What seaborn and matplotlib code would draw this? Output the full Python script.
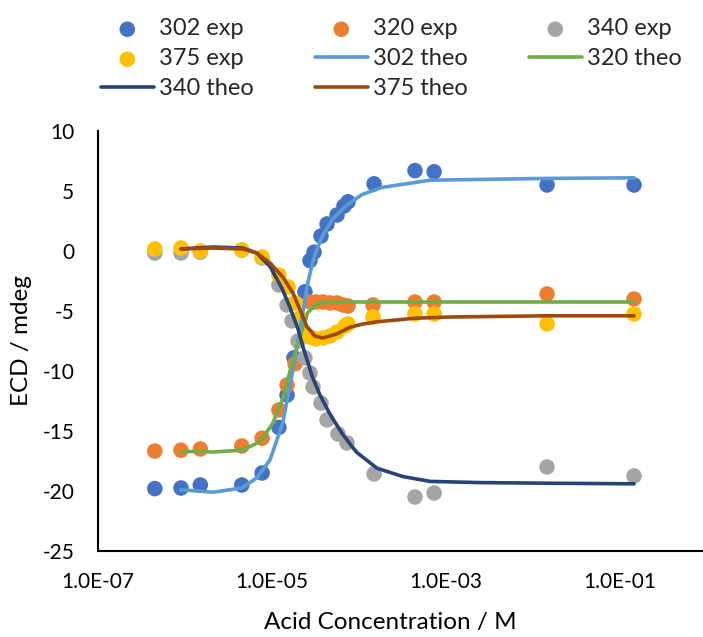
import numpy as np
import pandas as pd
import matplotlib
matplotlib.use('Agg')
import matplotlib.pyplot as plt
import seaborn as sns
from matplotlib.ticker import FixedLocator, FuncFormatter

sns.set_theme(style='white')
plt.rcParams['font.family'] = ['Lato', 'DejaVu Sans']
plt.rcParams['axes.unicode_minus'] = False

# experimental points (acid concentration in M, ECD in mdeg)
x_302_exp = [4.5e-7, 9.0e-7, 1.5e-6, 4.5e-6, 7.7e-6, 1.2e-5, 1.49e-5, 1.79e-5, 2.39e-5, 2.73e-5,
             3.04e-5, 3.66e-5, 4.29e-5, 5.59e-5, 6.73e-5, 7.48e-5, 1.49e-4, 4.4e-4, 7.3e-4, 1.45e-2, 1.45e-1]
y_302_exp = [-19.8, -19.75, -19.5, -19.5, -18.5, -14.7, -12.0, -8.9, -3.4, -0.8,
             -0.1, 1.25, 2.25, 3.0, 3.75, 4.1, 5.6, 6.7, 6.6, 5.5, 5.5]

x_320_exp = [4.5e-7, 9.0e-7, 1.5e-6, 4.5e-6, 7.7e-6, 1.2e-5, 1.49e-5, 1.84e-5, 2.73e-5, 3.2e-5,
             3.86e-5, 4.64e-5, 5.59e-5, 6.55e-5, 7.48e-5, 1.45e-4, 4.4e-4, 7.3e-4, 1.45e-2, 1.45e-1]
y_320_exp = [-16.67, -16.6, -16.5, -16.25, -15.6, -13.25, -11.17, -9.4, -4.25, -4.25,
             -4.25, -4.33, -4.33, -4.5, -4.58, -4.5, -4.25, -4.25, -3.58, -4.0]

x_340_exp = [4.5e-7, 9.0e-7, 1.5e-6, 4.5e-6, 7.7e-6, 1.2e-5, 1.49e-5, 1.70e-5, 1.99e-5, 2.39e-5,
             2.73e-5, 2.96e-5, 3.66e-5, 4.29e-5, 5.74e-5, 7.28e-5, 1.49e-4, 4.4e-4, 7.3e-4, 1.45e-2, 1.45e-1]
y_340_exp = [-0.17, -0.17, -0.1, 0.08, -0.58, -2.83, -4.5, -5.83, -7.5, -8.9,
             -10.17, -11.33, -12.67, -14.08, -15.25, -16.0, -18.58, -20.5, -20.17, -18.0, -18.75]

x_375_exp = [4.5e-7, 9.0e-7, 1.5e-6, 4.5e-6, 7.7e-6, 1.2e-5, 1.53e-5, 1.84e-5, 2.1e-5, 2.39e-5,
             2.73e-5, 3.2e-5, 3.86e-5, 4.64e-5, 5.59e-5, 6.91e-5, 7.48e-5, 1.45e-4, 4.4e-4, 7.3e-4, 1.45e-2, 1.45e-1]
y_375_exp = [0.17, 0.25, 0.0, 0.08, -0.5, -2.0, -3.0, -4.33, -5.58, -6.83,
             -7.17, -7.33, -7.25, -7.08, -6.75, -6.25, -6.08, -5.5, -5.25, -5.25, -6.08, -5.25]

# theoretical curves
x_302_theo = [9.0e-7, 2.1e-6, 4.5e-6, 6.7e-6, 9.5e-6, 1.17e-5, 1.34e-5, 1.53e-5, 1.70e-5, 1.94e-5,
              2.27e-5, 2.59e-5, 2.88e-5, 3.12e-5, 3.76e-5, 4.90e-5, 6.91e-5, 1.08e-4, 1.84e-4, 6.55e-4, 1.45e-2, 1.45e-1]
y_302_theo = [-19.9, -20.1, -19.75, -18.9, -17.4, -15.5, -14.2, -12.0, -10.3, -8.0,
              -5.0, -2.6, -1.2, -0.3, 1.2, 2.6, 3.7, 4.7, 5.3, 5.9, 6.05, 6.1]

x_320_theo = [9.0e-7, 2.1e-6, 4.5e-6, 7.3e-6, 8.3e-6, 1.03e-5, 1.17e-5, 1.34e-5, 1.53e-5, 1.84e-5,
              2.21e-5, 2.59e-5, 3.38e-5, 4.90e-5, 1.99e-4, 1.45e-1]
y_320_theo = [-16.7, -16.75, -16.6, -15.9, -15.3, -14.3, -13.2, -12.3, -10.6, -8.5,
              -6.6, -5.1, -4.35, -4.25, -4.25, -4.25]

x_340_theo = [9.0e-7, 2.1e-6, 4.6e-6, 6.7e-6, 9.5e-6, 1.30e-5, 1.61e-5, 1.99e-5, 2.27e-5, 2.59e-5,
              2.88e-5, 3.56e-5, 4.64e-5, 6.38e-5, 8.31e-5, 9.49e-5, 1.61e-4, 3.21e-4, 6.55e-4, 2.46e-3, 1.45e-2, 1.45e-1]
y_340_theo = [0.17, 0.33, 0.25, -0.17, -1.3, -3.1, -4.7, -6.5, -8.0, -9.3,
              -10.4, -12.0, -13.6, -15.2, -16.3, -16.8, -18.1, -18.8, -19.2, -19.3, -19.35, -19.4]

x_375_theo = [9.0e-7, 2.1e-6, 4.6e-6, 6.7e-6, 9.5e-6, 1.34e-5, 1.74e-5, 2.10e-5, 2.52e-5, 3.12e-5,
              3.86e-5, 5.59e-5, 7.88e-5, 1.08e-4, 1.61e-4, 4.41e-4, 1.11e-3, 1.45e-2, 1.45e-1]
y_375_theo = [0.17, 0.25, 0.17, -0.17, -1.0, -2.2, -3.5, -4.9, -6.3, -7.1,
              -7.25, -6.9, -6.35, -6.1, -5.9, -5.6, -5.5, -5.4, -5.4]

x_ticks = [1e-7, 1e-5, 1e-3, 1e-1]
y_ticks = [-25, -20, -15, -10, -5, 0, 5, 10]

EXP = [
    ('302 exp', x_302_exp, y_302_exp, '#4472C4'),
    ('320 exp', x_320_exp, y_320_exp, '#ED7D31'),
    ('340 exp', x_340_exp, y_340_exp, '#A5A5A5'),
    ('375 exp', x_375_exp, y_375_exp, '#FFC000'),
]
THEO = [
    ('302 theo', x_302_theo, y_302_theo, '#5B9BD5'),
    ('320 theo', x_320_theo, y_320_theo, '#70AD47'),
    ('340 theo', x_340_theo, y_340_theo, '#264478'),
    ('375 theo', x_375_theo, y_375_theo, '#9E480E'),
]

fig = plt.figure(figsize=(7.03, 6.37), dpi=100)
ax = fig.add_axes([98 / 703, 86 / 637, 609 / 703, 420 / 637])

for label, xs, ys, color in EXP:
    sns.scatterplot(x=xs, y=ys, ax=ax, color=color, s=125, edgecolor='none',
                    label=label, zorder=2)
for label, xs, ys, color in THEO:
    sns.lineplot(x=xs, y=ys, ax=ax, color=color, linewidth=2.6, label=label,
                 zorder=3, solid_capstyle='round')

ax.set_xscale('log')
ax.set_xlim(1e-7, 1)
ax.set_ylim(-25, 10)
ax.xaxis.set_major_locator(FixedLocator(x_ticks))
ax.xaxis.set_minor_locator(FixedLocator([]))
ax.xaxis.set_major_formatter(FuncFormatter(lambda v, _: f'{v:.1E}'))
ax.yaxis.set_major_locator(FixedLocator(y_ticks))
ax.tick_params(axis='both', length=0, labelsize=15, colors='black')
ax.tick_params(axis='y', pad=17)
ax.tick_params(axis='x', pad=15)

for side in ['top', 'right']:
    ax.spines[side].set_visible(False)
for side in ['left', 'bottom']:
    ax.spines[side].set_color('black')
    ax.spines[side].set_linewidth(1.5)

ax.set_xlabel('Acid Concentration / M', fontsize=17.5, color='black', va='center')
ax.set_ylabel('ECD / mdeg', fontsize=17.5, color='black', va='center')
ax.xaxis.set_label_coords((390 - 98) / 609, -(622 - 551) / 420)
ax.yaxis.set_label_coords(-(98 - 22) / 609, 0.5)

handles, labels = ax.get_legend_handles_labels()
ax.get_legend().remove()
order = ['302 exp', '375 exp', '340 theo', '320 exp', '302 theo', '375 theo', '340 exp', '320 theo']
lookup = dict(zip(labels, handles))
fig.legend([lookup[k] for k in order], order, loc='upper center', ncol=3,
           bbox_to_anchor=(391 / 703, 1.0), frameon=False, fontsize=17,
           handlelength=2.25, handletextpad=0.2, columnspacing=2.6,
           labelspacing=0.38, borderaxespad=0.48, borderpad=0.3)

fig.savefig('out.png', dpi=100)
